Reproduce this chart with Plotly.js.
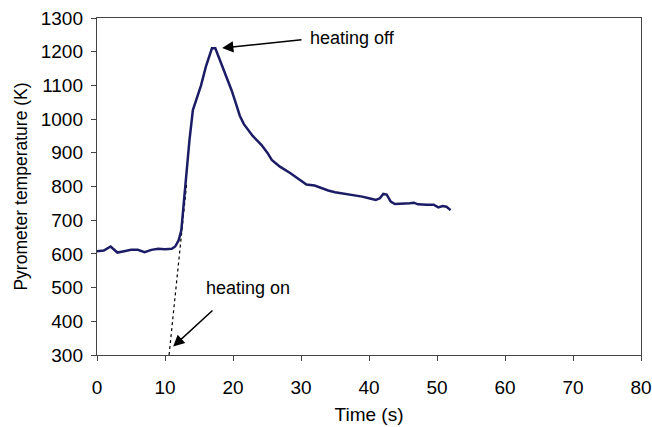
<!DOCTYPE html>
<html><head><meta charset="utf-8">
<script src="https://cdn.plot.ly/plotly-3.0.1.min.js"></script>
<style>html,body{margin:0;padding:0;background:#fff}</style>
</head><body><div id="chart" style="width:652px;height:427px"></div>
<script>
const timeS = [0,1,2,3,4,5,6,7,8,9,10,11,11.5,12,12.4,12.8,13.1,13.6,14.1,14.6,15.3,16.0,16.5,16.9,17.4,17.9,18.5,19.2,19.8,20.4,21.0,21.6,22.3,22.9,24.2,25.1,25.7,26.9,28.4,29.9,30.8,32.0,33,34,35,36,37,38,39,40,41,41.6,42.1,42.6,43.2,43.8,45,46,46.6,47.2,48.5,49.5,50.2,50.8,51.4,52];
const tempK = [608,610,622,604,608,612,612,605,612,615,614,615,622,640,670,760,840,938,1027,1057,1100,1155,1185,1210,1210,1185,1150,1115,1085,1048,1010,985,965,950,923,899,879,859,840,819,806,803,795,788,783,780,777,773,770,765,760,765,778,776,755,748,748,750,752,747,746,746,738,742,740,730];
const dashT = [10.6,13.2];
const dashK = [300,810];
const xTicks = [0,10,20,30,40,50,60,70,80];
const yTicks = [300,400,500,600,700,800,900,1000,1100,1200,1300];

const fam = '"Liberation Sans", Arial, sans-serif';
const tickFont = {family:fam, size:19, color:'#000'};
const xTitleFont = {family:fam, size:19, color:'#000'};
const yTitleFont = {family:fam, size:17.5, color:'#000'};
const annFont = {family:fam, size:18, color:'#000'};
const data = [
  {x:dashT, y:dashK, mode:'lines', line:{color:'#000', width:1.2, dash:'dot'}, hoverinfo:'skip'},
  {x:timeS, y:tempK, mode:'lines', line:{color:'#1c1c66', width:2.5}}
];
const layout = {
  width:652, height:427,
  margin:{l:97, r:11, t:18, b:72},
  paper_bgcolor:'#fff', plot_bgcolor:'#fff',
  showlegend:false,
  font:{family:fam, size:18, color:'#000'},
  xaxis:{range:[0,80], tickvals:xTicks, ticks:'outside', ticklen:5, tickcolor:'#444',
    ticklabelstandoff:10,
    showline:true, linecolor:'#444', linewidth:1.2, mirror:true, showgrid:false, zeroline:false,
    tickfont:tickFont, title:{text:'Time (s)', font:xTitleFont, standoff:10}},
  yaxis:{range:[300,1300], tickvals:yTicks, ticks:'outside', ticklen:5, tickcolor:'#444',
    ticklabelstandoff:4,
    showline:true, linecolor:'#444', linewidth:1.2, mirror:true, showgrid:false, zeroline:false,
    tickfont:tickFont, title:{text:'Pyrometer temperature (K)', font:yTitleFont, standoff:8}},
  annotations:[
    {x:18.4, y:1211, ax:30.3, ay:1236, axref:'x', ayref:'y', xref:'x', yref:'y',
     showarrow:true, arrowhead:2, arrowsize:1.5, arrowwidth:1.5, arrowcolor:'#000', text:''},
    {x:31.0, y:1242, xref:'x', yref:'y', text:'heating off', showarrow:false, xanchor:'left', font:annFont},
    {x:11.2, y:325, ax:17.2, ay:436, axref:'x', ayref:'y', xref:'x', yref:'y',
     showarrow:true, arrowhead:2, arrowsize:1.5, arrowwidth:1.5, arrowcolor:'#000', text:''},
    {x:15.8, y:500, xref:'x', yref:'y', text:'heating on', showarrow:false, xanchor:'left', font:annFont}
  ]
};
Plotly.newPlot('chart', data, layout, {displayModeBar:false, staticPlot:true});
</script></body></html>
